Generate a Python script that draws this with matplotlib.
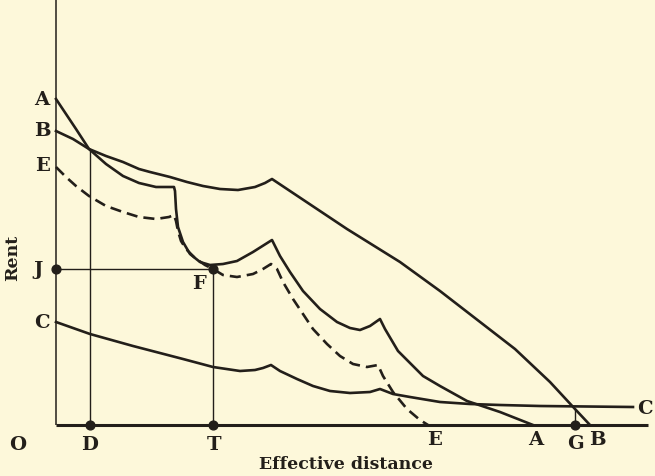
import matplotlib
matplotlib.use("Agg")
import matplotlib.pyplot as plt

# ---- data (distance, rent) ----
a_x = [0, 10, 20, 33, 50, 67, 83, 100, 118, 119, 120, 122, 127, 134, 144, 154, 167, 181, 197, 216,
       224, 234, 247, 264, 281, 294, 304, 314, 324, 329, 342, 354, 367, 384, 411, 444, 477]
a_r = [326, 311, 296, 276, 261, 249, 242, 238, 238, 234, 216, 198, 183, 171, 163, 160, 161, 164, 173, 185,
       169, 153, 134, 116, 103, 97, 95, 99, 106, 96, 74, 62, 49, 39, 24, 13, 0]

b_x = [0, 17, 33, 50, 67, 83, 94, 114, 131, 147, 164, 182, 199, 209, 216,
       261, 291, 344, 384, 459, 494, 519, 534]
b_r = [294, 286, 276, 269, 263, 256, 253, 248, 243, 239, 236, 235, 238, 242, 246,
       216, 196, 163, 134, 76, 43, 16, 0]

e_x = [0, 10, 20, 33, 50, 67, 83, 100, 113, 118, 120, 122, 125, 130, 139, 149, 157, 167, 181, 197, 207, 215,
       221, 227, 237, 247, 257, 271, 284, 297, 311, 322, 327, 337, 351, 364, 372]
e_r = [258, 248, 239, 229, 219, 213, 208, 206, 208, 210, 204, 194, 184, 176, 167, 160, 156, 150, 148, 151, 156, 161,
       156, 143, 126, 111, 96, 81, 69, 61, 58, 60, 49, 33, 16, 5, 0]

c_x = [0, 34, 77, 127, 157, 184, 199, 207, 215, 224, 241, 257, 274, 294, 314, 324, 337, 354, 384, 414, 444, 484, 577]
c_r = [103, 91, 79, 66, 58, 54, 55, 57, 60, 54, 46, 39, 34, 32, 33, 36, 31, 28, 23, 21, 20, 19, 18]

d_x = 34      # point D
t_x = 157     # point T
g_x = 519     # point G
g_r = 16      # rent where B meets C above G
j_r = 156     # rent J
b_cross_r = 276  # A and B cross above D

x_max = 592

BG = "#fdf8da"
INK = "#231f1a"

fig = plt.figure(figsize=(6.55, 4.77), dpi=100, facecolor=BG)
ax = fig.add_axes([0, 0, 1, 1])
ax.set_facecolor(BG)
ax.set_xlim(-56, 599)
ax.set_ylim(-51, 426)
ax.axis("off")

font = dict(family="DejaVu Serif", weight="bold", color=INK)

# axes
ax.plot([0, 0], [0, 426], color=INK, lw=1.1, solid_capstyle="butt")
ax.plot([0, x_max], [0, 0], color=INK, lw=2.2, solid_capstyle="butt")

# curves
ax.plot(a_x, a_r, color=INK, lw=1.9, solid_joinstyle="round")
ax.plot(b_x, b_r, color=INK, lw=1.9, solid_joinstyle="round")
ax.plot(c_x, c_r, color=INK, lw=1.9, solid_joinstyle="round")
ax.plot(e_x, e_r, color=INK, lw=1.9, dashes=(4.2, 2.3))

# guide lines
ax.plot([d_x, d_x], [0, b_cross_r], color=INK, lw=1.0)
ax.plot([t_x, t_x], [0, j_r], color=INK, lw=1.0)
ax.plot([0, t_x], [j_r, j_r], color=INK, lw=1.0)
ax.plot([g_x, g_x], [0, g_r], color=INK, lw=1.0)

# dots
ax.scatter([0, d_x, t_x, t_x, g_x], [j_r, 0, 0, j_r, 0], s=40, color=INK, zorder=5)

fs = 14
# left labels
for txt, r in [("A", 326), ("B", 295), ("E", 260), ("C", 103)]:
    ax.text(-14, r, txt, ha="center", va="center", fontsize=fs, **font)
ax.text(-18, j_r, "J", ha="center", va="center", fontsize=fs, **font)
# bottom labels
for txt, x, r in [("O", -38, -19), ("D", d_x, -19), ("T", t_x + 1, -19), ("E", 379, -14),
                  ("A", 480, -14), ("G", g_x, -18), ("B", 541, -14)]:
    ax.text(x, r, txt, ha="center", va="center", fontsize=fs, **font)
ax.text(589, 17, "C", ha="center", va="center", fontsize=fs, **font)
ax.text(143, 142, "F", ha="center", va="center", fontsize=fs, **font)

ax.text(290, -39, "Effective distance", ha="center", va="center", fontsize=12.5, **font)
ax.text(-43, 168, "Rent", ha="center", va="center", rotation=90, fontsize=12.5, **font)

fig.savefig("out.png", dpi=100, facecolor=BG)
